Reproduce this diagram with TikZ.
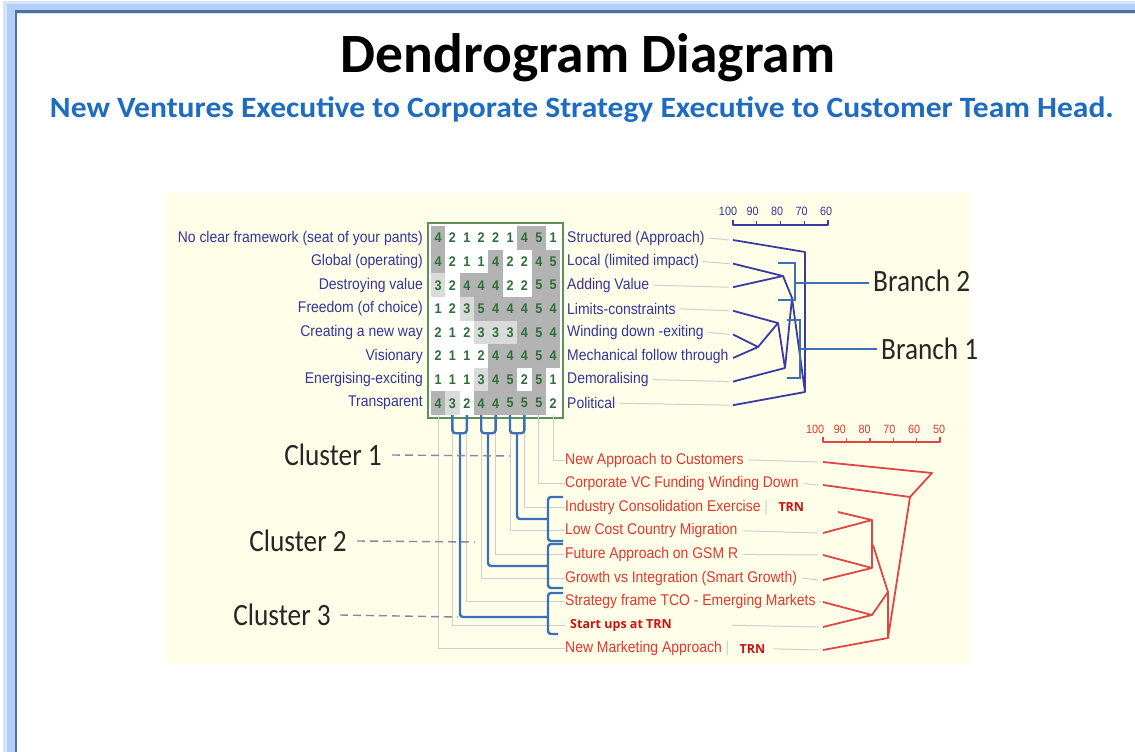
\documentclass[tikz,border=0pt]{standalone}
\usepackage{fontspec}
\setmainfont{Carlito}
\newfontfamily\chartfont[FakeStretch=0.9]{Liberation Sans}
\newfontfamily\calloutfont[FakeStretch=0.88]{Carlito}
\newfontfamily\subfont[FakeStretch=1.07]{Carlito}
\newfontfamily\tagfont{Open Sans}
\usetikzlibrary{positioning}

\definecolor{frameblue}{HTML}{4F6FA5}
\definecolor{glowblue}{HTML}{B3CFF7}
\definecolor{panelyellow}{HTML}{FFFFE9}
\definecolor{titleblue}{HTML}{1D6CC2}
\definecolor{navytext}{HTML}{34349C}
\definecolor{navyline}{HTML}{3A3AA2}
\definecolor{redtext}{HTML}{E2362F}
\definecolor{redline}{HTML}{E24545}
\definecolor{trnred}{HTML}{CC1111}
\definecolor{clusterblue}{HTML}{3B6FB6}
\definecolor{gridgreen}{HTML}{2E6E38}
\definecolor{boxgreen}{HTML}{5C905C}
\definecolor{cellgrey}{HTML}{B3B3B3}
\definecolor{cellpale}{HTML}{DADADA}
\definecolor{leadergrey}{HTML}{CFCFCF}
\definecolor{dashgrey}{HTML}{7C8BA0}

\begin{document}
\begin{tikzpicture}[x=1pt,y=-1pt,
    lbl/.style={font=\chartfont\fontsize{15.5}{17}\selectfont,text=navytext,inner sep=0pt},
    redlbl/.style={lbl,text=redtext},
    trn/.style={font=\tagfont\bfseries\fontsize{12.5}{14}\selectfont,text=trnred,inner sep=0pt},
    cell/.style={minimum width=14.4pt,minimum height=23.6pt,inner sep=0pt,
      font=\chartfont\bfseries\fontsize{14}{14}\selectfont,text=gridgreen},
    scalenum/.style={font=\chartfont\fontsize{12}{12}\selectfont,inner sep=0pt},
    leader/.style={draw=leadergrey,line width=1pt},
    navytree/.style={draw=navyline,line width=1.8pt,line join=round},
    redtree/.style={draw=redline,line width=1.8pt,line join=round},
    cluster/.style={draw=clusterblue,line width=2.4pt,rounded corners=3pt},
    branch/.style={draw=clusterblue,line width=1.8pt},
    dashline/.style={draw=dashgrey,line width=1.4pt,dash pattern=on 8pt off 5pt},
    bigword/.style={font=\calloutfont\fontsize{31}{32}\selectfont,text=black!85,inner sep=0pt}]

  % page frame
  \useasboundingbox (0,0) rectangle (1135,752);
  \fill[white] (0,0) rectangle (1135,752);
  \fill[glowblue!55] (3,1) rectangle (1135,14);
  \fill[glowblue!55] (3,1) rectangle (15,752);
  \fill[glowblue] (7,4) rectangle (1135,11);
  \fill[glowblue] (7,4) rectangle (15,752);
  \draw[frameblue,line width=2.5pt] (1135,11.5) -- (16,11.5) -- (16,752);

  % titles
  \node[font=\bfseries\fontsize{55.5}{60}\selectfont] (title) at (588,58) {Dendrogram Diagram};
  \node[font=\subfont\bfseries\fontsize{29.5}{32}\selectfont,text=titleblue] (subtitle) at (582,110)
    {New Ventures Executive to Corporate Strategy Executive to Customer Team Head.};

  \fill[panelyellow] (165,193) rectangle (970,663);

  % score grid
  \fill[white] (428,223) rectangle (563,418);
  \foreach \vals [count=\r] in {{4,2,1,2,2,1,4,5,1},{4,2,1,1,4,2,2,4,5},{3,2,4,4,4,2,2,5,5},
      {1,2,3,5,4,4,4,5,4},{2,1,2,3,3,3,4,5,4},{2,1,1,2,4,4,4,5,4},{1,1,1,3,4,5,2,5,1},
      {4,3,2,4,4,5,5,5,2}}
    \foreach \v [count=\c] in \vals {
      \ifnum\v>3 \def\cellcol{cellgrey}\else\ifnum\v=3 \def\cellcol{cellpale}\else\def\cellcol{white}\fi\fi
      \node[cell,fill=\cellcol] (c\r-\c) at ({438+(\c-1)*14.4},{238+(\r-1)*23.6}) {\v};
    }
  \draw[boxgreen,line width=2pt] (428,223) rectangle (563,418);

  % construct labels
  \foreach \txt [count=\r] in {No clear framework (seat of your pants),Global (operating),
      Destroying value,Freedom (of choice),Creating a new way,Visionary,
      Energising-exciting,Transparent}
    \node[lbl,anchor=east] (lt\r) at (423,{238+(\r-1)*23.6}) {\txt};
  \foreach \txt [count=\r] in {Structured (Approach),Local (limited impact),Adding Value,
      Limits-constraints,Winding down -exiting,Mechanical follow through,Demoralising,Political} {
    \node[lbl,anchor=west] (rt\r) at (567,{238+(\r-1)*23.6}) {\txt};
    \coordinate (nl\r) at (733,{240+(\r-1)*23.6});
    \ifnum\r=6 \else \draw[leader] ([xshift=4pt]rt\r.east) -- ([xshift=-4pt]nl\r); \fi
  }

  % construct tree
  \draw[navytree,line width=1.4pt] (733,220) -- (733,225) -- (828,225) -- (828,220);
  \foreach \num [count=\i] in {100,90,80,70,60} {
    \draw[navytree,line width=1.4pt] ({733+(\i-1)*23.75},225) -- ++(0,-4);
    \node[scalenum,text=navytext] (ns\i) at ({728+(\i-1)*24.5},211) {\num};
  }
  \coordinate (jS) at (805,252);
  \coordinate (jA) at (783,276);
  \coordinate (jB) at (758,347);
  \coordinate (jC) at (778,323);
  \coordinate (jD) at (785,368);
  \coordinate (jF) at (792,298);
  \coordinate (jE) at (805,392);
  \draw[navytree] (nl1) -- (jS) -- (jE) -- (nl8);
  \draw[navytree] (nl2) -- (jA) -- (nl3);
  \draw[navytree] (nl5) -- (jB) -- (nl6);
  \draw[navytree] (nl4) -- (jC) -- (jB);
  \draw[navytree] (jC) -- (jD) -- (nl7);
  \draw[navytree] (jA) -- (jF) -- (jD);
  \draw[navytree] (jF) -- (jE);

  % branches
  \coordinate (b2mid) at (795,283);
  \coordinate (b1mid) at (800,349);
  \node[bigword,anchor=west] (br2) at (873,281) {Branch 2};
  \node[bigword,anchor=west] (br1) at (881,349) {Branch 1};
  \draw[branch] (778,263) -- (795,263) -- (795,300) -- (778,300);
  \draw[branch] (787,320) -- (800,320) -- (800,378) -- (787,378);
  \draw[branch] (b2mid) -- ([xshift=-4pt]b2mid -| br2.west);
  \draw[branch] (b1mid) -- ([xshift=-4pt]b1mid -| br1.west);

  % project labels
  \foreach \txt [count=\k] in {New Approach to Customers,Corporate VC Funding Winding Down,
      Industry Consolidation Exercise \textcolor{leadergrey}{|},Low Cost Country Migration,
      Future Approach on GSM R,Growth vs Integration (Smart Growth),
      Strategy frame TCO - Emerging Markets,{},New Marketing Approach \textcolor{leadergrey}{|}}
    \node[redlbl,anchor=west] (rd\k) at (565,{460+(\k-1)*23.6}) {\txt};
  \node[trn,anchor=west] (rd8x) at (570,625.2) {Start ups at TRN};
  \node[trn,right=10pt of rd3] (trn3) {TRN};
  \node[trn,right=10pt of rd9] (trn9) {TRN};

  % leaders from grid columns
  \foreach \k in {1,...,9} {
    \pgfmathtruncatemacro{\c}{10-\k}
    \draw[leader] (c8-\c.south) |- (rd\k.west);
  }
  \foreach \k/\y in {1/462,2/485,3/512,4/533,5/555,6/580,7/602,8/627,9/650}
    \coordinate (rl\k) at (823,\y);
  \coordinate (rl3) at (838,512);
  \draw[leader] ([xshift=5pt]rd1.east) -- ([xshift=-5pt]rl1);
  \draw[leader] ([xshift=5pt]rd2.east) -- ([xshift=-5pt]rl2);
  \draw[leader] ([xshift=5pt]rd4.east) -- ([xshift=-5pt]rl4);
  \draw[leader] ([xshift=5pt]rd5.east) -- ([xshift=-5pt]rl5);
  \draw[leader] ([xshift=5pt]rd6.east) -- ([xshift=-5pt]rl6);
  \draw[leader] ([xshift=5pt]rd7.east) -- ([xshift=-5pt]rl7);
  \draw[leader] ([xshift=60pt]rd8x.east) -- ([xshift=-5pt]rl8);
  \draw[leader] ([xshift=8pt]trn9.east) -- ([xshift=-5pt]rl9);

  % project tree
  \draw[redtree,line width=1.4pt] (823,437) -- (823,442) -- (940,442) -- (940,437);
  \foreach \num [count=\i] in {100,90,80,70,60,50} {
    \draw[redtree,line width=1.4pt] ({823+(\i-1)*23.4},442) -- ++(0,-4);
    \node[scalenum,text=redtext] (rs\i) at ({815+(\i-1)*24.8},429) {\num};
  }
  \coordinate (jP) at (932,473);
  \coordinate (jQ) at (910,497);
  \coordinate (jR) at (872,520);
  \coordinate (jG) at (872,568);
  \coordinate (jM) at (873,545);
  \coordinate (jT) at (888,592);
  \coordinate (jU) at (872,615);
  \coordinate (jV) at (888,638);
  \draw[redtree] (rl1) -- (jP) -- (jQ) -- (jV) -- (rl9);
  \draw[redtree] (rl2) -- (jQ);
  \draw[redtree] (rl3) -- (jR) -- (rl4);
  \draw[redtree] (rl5) -- (jG) -- (rl6);
  \draw[redtree] (jR) -- (jG);
  \draw[redtree] (jM) -- (jT) -- (jV);
  \draw[redtree] (rl7) -- (jU) -- (rl8);
  \draw[redtree] (jU) -- (jT);

  % clusters
  \coordinate (u1) at (460,433);
  \coordinate (u2) at (488,433);
  \coordinate (u3) at (517,433);
  \coordinate (k1) at (548,519);
  \coordinate (k2) at (548,566);
  \coordinate (k3) at (548,617);
  \draw[cluster] (c8-2.south) -- ++(0,18) -| (c8-3.south);
  \draw[cluster] (c8-4.south) -- ++(0,18) -| (c8-5.south);
  \draw[cluster] (c8-6.south) -- ++(0,18) -| (c8-7.south);
  \draw[cluster] (563,497) -- (548,497) -- (548,541) -- (563,541);
  \draw[cluster] (563,544) -- (548,544) -- (548,588) -- (563,588);
  \draw[cluster] (563,593) -- (548,593) -- (548,634) -- (558,634);
  \draw[cluster] (u3) |- (k1);
  \draw[cluster] (u2) |- (k2);
  \draw[cluster] (u1) |- (k3);

  \node[bigword,anchor=east] (cl1) at (382,455) {Cluster 1};
  \node[bigword,anchor=east] (cl2) at (347,541) {Cluster 2};
  \node[bigword,anchor=east] (cl3) at (331,615) {Cluster 3};
  \coordinate (cd1) at (510,456);
  \coordinate (cd2) at (475,542);
  \coordinate (cd3) at (458,617);
  \draw[dashline] ([xshift=10pt]cl1.east) -- (cd1);
  \draw[dashline] ([xshift=10pt]cl2.east) -- (cd2);
  \draw[dashline] ([xshift=9pt]cl3.east) -- (cd3);
\end{tikzpicture}
\end{document}
